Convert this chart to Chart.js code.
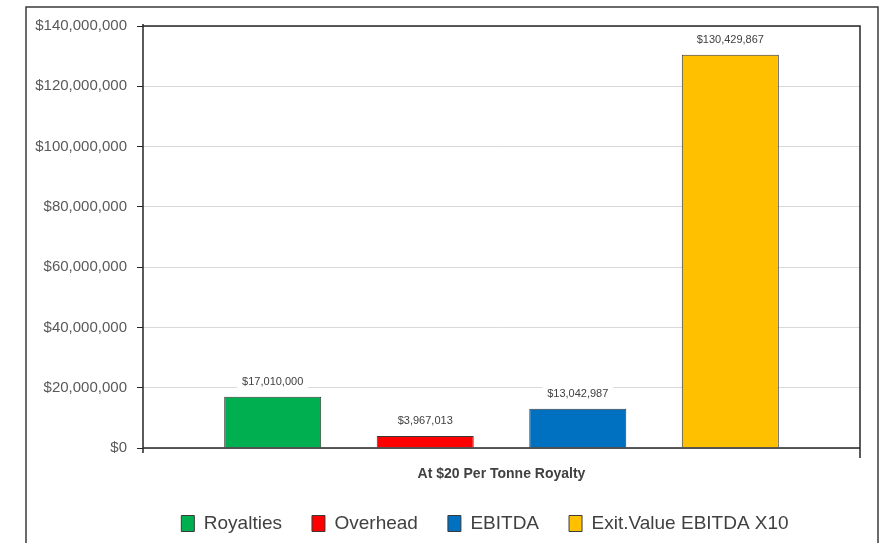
<!DOCTYPE html>
<html><head><meta charset="utf-8">
<script src="https://cdn.jsdelivr.net/npm/chart.js@4.4.1/dist/chart.umd.min.js"></script>
<style>html,body{margin:0;padding:0;background:#fff}#wrap{width:882px;height:543px}</style>
</head><body><div id="wrap"><canvas id="c" width="882" height="543"></canvas></div>
<script>
const categories = ['At $20 Per Tonne Royalty'];
const seriesNames = ['Royalties', 'Overhead', 'EBITDA', 'Exit.Value EBITDA X10'];
const royalties = [17010000];
const overhead = [3967013];
const ebitda = [13042987];
const exitValue = [130429867];
const seriesColors = ['#00B050', '#FF0000', '#0070C0', '#FFC000'];
const yTicks = [0, 20000000, 40000000, 60000000, 80000000, 100000000, 120000000, 140000000];

const FONT = "'Liberation Sans', Arial, sans-serif";
const fmt = v => '$' + Math.round(v).toLocaleString('en-US');

const frame = {
  id: 'frame',
  afterLayout(chart) {
    const lg = chart.legend;
    if (lg) { lg.left += 55; lg.right += 55; }
  },
  beforeDraw(chart) {
    const ctx = chart.ctx;
    ctx.save();
    ctx.fillStyle = '#fff';
    ctx.fillRect(0, 0, chart.width, chart.height);
    ctx.strokeStyle = '#3a3a3a';
    ctx.lineWidth = 1.5;
    ctx.beginPath();
    ctx.moveTo(26, 560); ctx.lineTo(26, 7); ctx.lineTo(878, 7); ctx.lineTo(878, 560);
    ctx.stroke();
    ctx.restore();
  },
  afterDraw(chart) {
    const ctx = chart.ctx, a = chart.chartArea;
    ctx.save();
    ctx.strokeStyle = '#262626';
    ctx.lineWidth = 1.5;
    ctx.beginPath();
    ctx.moveTo(a.left, a.top); ctx.lineTo(a.right, a.top); ctx.lineTo(a.right, a.bottom + 10);
    ctx.moveTo(a.left, a.top - 2); ctx.lineTo(a.left, a.bottom + 5);
    ctx.moveTo(a.left, a.bottom); ctx.lineTo(a.right, a.bottom);
    ctx.stroke();
    ctx.font = "11px " + FONT;
    ctx.textAlign = 'center';
    ctx.textBaseline = 'middle';
    chart.data.datasets.forEach((ds, i) => {
      const meta = chart.getDatasetMeta(i);
      meta.data.forEach((bar, j) => {
        const txt = fmt(ds.data[j]);
        const w = ctx.measureText(txt).width;
        const y = bar.y - 15;
        ctx.fillStyle = '#fff';
        ctx.fillRect(bar.x - w / 2 - 5, y - 8, w + 10, 16);
        ctx.fillStyle = '#404040';
        ctx.fillText(txt, bar.x, y);
      });
    });
    ctx.restore();
  }
};

const dataArrays = [royalties, overhead, ebitda, exitValue];
new Chart(document.getElementById('c'), {
  type: 'bar',
  data: {
    labels: categories,
    datasets: seriesNames.map((n, i) => ({
      label: n,
      data: dataArrays[i],
      backgroundColor: seriesColors[i],
      borderColor: '#3a3a3a',
      borderWidth: 1,
      categoryPercentage: 0.851,
      barPercentage: 0.636
    }))
  },
  options: {
    responsive: false,
    animation: false,
    layout: { padding: { left: 0, right: 22, top: 26, bottom: 0 } },
    plugins: {
      tooltip: { enabled: false },
      legend: {
        position: 'bottom',
        labels: {
          font: { family: FONT, size: 19 },
          color: '#404040',
          boxWidth: 13,
          boxHeight: 16,
          padding: 30,
          generateLabels(chart) {
            return chart.data.datasets.map((ds, i) => ({
              text: ds.label, fillStyle: ds.backgroundColor, strokeStyle: '#3a3a3a',
              lineWidth: 1, datasetIndex: i, fontColor: '#404040'
            }));
          }
        }
      }
    },
    scales: {
      x: {
        afterFit(s) { s.height = 36; },
        grid: { display: false, drawTicks: false },
        border: { display: false },
        ticks: { font: { family: FONT, size: 14, weight: 'bold' }, color: '#404040', padding: 18 }
      },
      y: {
        min: 0, max: 140000000,
        afterFit(s) { s.width = 143; },
        afterBuildTicks(s) { s.ticks = yTicks.map(v => ({ value: v })); },
        grid: { color: '#d9d9d9', lineWidth: 1, tickLength: 6, tickColor: '#262626' },
        border: { display: false },
        ticks: { font: { family: FONT, size: 15 }, color: '#595959', padding: 10, callback: v => fmt(v) }
      }
    }
  },
  plugins: [frame]
});
</script></body></html>
